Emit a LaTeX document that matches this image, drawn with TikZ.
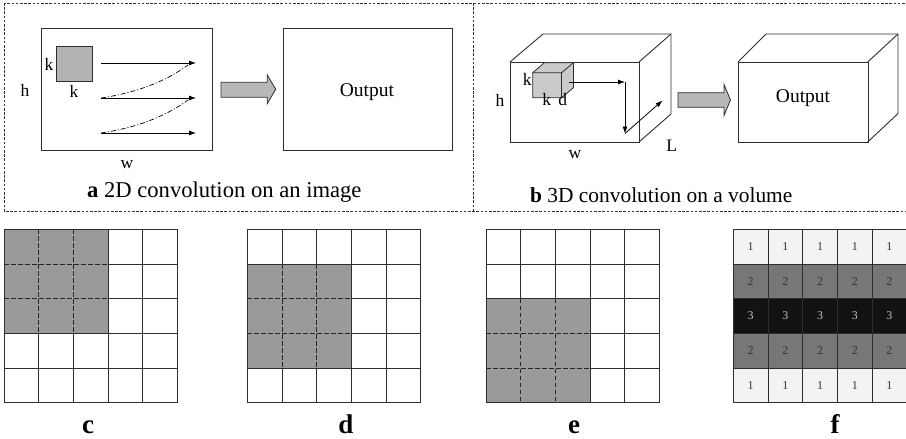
\documentclass[tikz,border=0pt]{standalone}
\usepackage{fontspec}
\setmainfont{Liberation Serif}
\usetikzlibrary{arrows.meta}

\definecolor{framecol}{HTML}{333333}
\definecolor{linecol}{HTML}{2E2E2E}
\definecolor{kernelgray}{HTML}{B4B4B4}
\definecolor{cubegray}{HTML}{CACACA}
\definecolor{arrowgray}{HTML}{B8B8B8}
\definecolor{cellgray}{HTML}{9A9A9A}
\definecolor{rowlight}{HTML}{F3F3F3}
\definecolor{rowmid}{HTML}{777777}
\definecolor{rowdark}{HTML}{121212}

\tikzset{
  panelframe/.style={draw=framecol, line width=0.8pt, dash pattern=on 2.6pt off 1.6pt},
  boxline/.style={draw=linecol, line width=0.9pt},
  flowarrow/.style={draw=black, line width=0.8pt, -{Latex[length=7pt,width=5pt]}},
  dashdot/.style={draw=black, line width=0.7pt, dash pattern=on 5pt off 2pt on 1pt off 2pt},
  bigarrow/.style={fill=arrowgray, draw=linecol, line width=0.8pt, line join=miter},
  dimlabel/.style={font=\fontsize{17.5}{20}\selectfont, inner sep=0pt},
  outlabel/.style={font=\fontsize{19.5}{22}\selectfont, inner sep=0pt},
  caption/.style={inner sep=0pt, anchor=base west},
  gridlabel/.style={font=\fontsize{27}{30}\selectfont\bfseries, inner sep=0pt, anchor=base},
  gridline/.style={draw=linecol, line width=0.8pt},
  innerdash/.style={draw=black!85, line width=0.8pt, dash pattern=on 4.5pt off 2.5pt},
  numlabel/.style={font=\fontsize{12}{13}\selectfont, inner sep=0pt},
}

% 5x5 grid of 34.7pt cells at origin #1, with a grey 3x3 window whose
% top-left cell is at column #2, row #3 (counted from 0)
\newcommand{\windowgrid}[3]{%
  \begin{scope}[shift={#1}]
    \foreach \i in {0,...,5} {
      \draw[gridline] (\i*34.7,0) -- (\i*34.7,173.5);
      \draw[gridline] (0,\i*34.7) -- (173.5,\i*34.7);
    }
    \fill[cellgray] (#2*34.7,#3*34.7) rectangle ++(104.1,104.1);
    \foreach \j in {1,2} {
      \draw[innerdash] ({(#2+\j)*34.7},#3*34.7) -- ++(0,104.1);
      \draw[innerdash] (#2*34.7,{(#3+\j)*34.7}) -- ++(104.1,0);
    }
    \draw[gridline] (#2*34.7,#3*34.7) rectangle ++(104.1,104.1);
  \end{scope}%
}

\begin{document}
\begin{tikzpicture}[x=1pt,y=-1pt]
\useasboundingbox (0,0) rectangle (906,439);

% ---------- dashed frame round panels a and b ----------
\draw[panelframe] (4,3) rectangle (912,211);
\draw[panelframe] (473.3,3) -- (473.3,211);

% ---------- panel a: 2D convolution ----------
\node[boxline, minimum width=171pt, minimum height=121.7pt, inner sep=0pt, anchor=north west] (img) at (40.7,28.3) {};
\node[fill=kernelgray, draw=linecol, line width=0.8pt, minimum width=35.7pt, minimum height=34.7pt, inner sep=0pt, anchor=north west] (kern) at (56,46) {};
\node[dimlabel] (ka1) at (49,64) {k};
\node[dimlabel] (ka2) at (74,91) {k};
\node[dimlabel] (ha) at (25,90) {h};
\node[dimlabel] (wa) at (127,165) {w};

\coordinate (r1s) at (101,63);   \coordinate (r1e) at (196,63);
\coordinate (r2s) at (101,98);   \coordinate (r2e) at (196,98);
\coordinate (r3s) at (101,133);  \coordinate (r3e) at (196,133);
\draw[flowarrow] (r1s) -- (r1e);
\draw[flowarrow] (r2s) -- (r2e);
\draw[flowarrow] (r3s) -- (r3e);
\draw[dashdot] (r2s) .. controls (135,93) and (165,82) .. (188,65);
\draw[dashdot] (r3s) .. controls (135,128) and (165,117) .. (188,100);

\draw[bigarrow] (221,82.3) -- (267.3,82.3) -- (267.3,75) -- (275.7,89.3)
  -- (267.3,103.6) -- (267.3,97.3) -- (221,97.3) -- cycle;

\node[boxline, minimum width=169pt, minimum height=121.7pt, inner sep=0pt, anchor=north west] (outa) at (283,28.3) {};
\node[outlabel] (outatext) at (367,92) {Output};

\node[caption, font=\fontsize{22.6}{26}\selectfont] (capa) at (87,197.5) {\textbf{a} 2D convolution on an image};

% ---------- panel b: 3D convolution ----------
% input volume
\fill[white] (510,62) -- (543,34) -- (671,34) -- (671,114) -- (639,142) -- (510,142) -- cycle;
\draw[boxline, line join=miter] (510,62) -- (543,34) -- (671,34) -- (671,114) -- (639,142);
\draw[boxline] (639,62) -- (671,34);
\node[boxline, minimum width=129pt, minimum height=80pt, inner sep=0pt, anchor=north west] (vol) at (510,62) {};

% 3D kernel
\filldraw[fill=cubegray, draw=linecol, line width=0.8pt, line join=miter]
  (532.7,72.7) -- (544.4,62.7) -- (573.4,62.7) -- (573.4,87.7) -- (561.7,97.7)
  -- (532.7,97.7) -- cycle;
\draw[draw=linecol, line width=0.8pt] (532.7,72.7) -- (561.7,72.7) -- (573.4,62.7);
\draw[draw=linecol, line width=0.8pt] (561.7,72.7) -- (561.7,97.7);
\node[dimlabel] (kb1) at (527.3,79.5) {k};
\node[dimlabel] (kb2) at (546.7,99.5) {k};
\node[dimlabel] (db) at (562.7,99.5) {d};
\node[dimlabel] (hb) at (500,100) {h};
\node[dimlabel] (wb) at (575,155) {w};
\node[dimlabel] (lb) at (671.7,145.7) {L};

\coordinate (s1) at (569,82);
\coordinate (s2) at (625,82);
\coordinate (s3) at (625,133.5);
\coordinate (s4) at (662.5,100.5);
\draw[flowarrow] (s1) -- (s2);
\draw[flowarrow] (s2) -- (s3);
\draw[flowarrow] (s3) -- (s4);

\draw[bigarrow] (678,92.7) -- (724,92.7) -- (724,84.5) -- (730.5,100)
  -- (724,115.5) -- (724,107.3) -- (678,107.3) -- cycle;

% output volume
\draw[boxline, line join=miter] (738,62) -- (766,34) -- (898,34) -- (898,113.5) -- (867.7,142);
\draw[boxline] (867.7,62) -- (898,34);
\node[boxline, minimum width=129.7pt, minimum height=80pt, inner sep=0pt, anchor=north west] (outb) at (738,62) {};
\node[outlabel] (outbtext) at (803,98) {Output};

\node[caption, font=\fontsize{21.4}{25}\selectfont] (capb) at (530,202) {\textbf{b} 3D convolution on a volume};

% ---------- panels c, d, e: sliding 3x3 window ----------
\windowgrid{(4,229.3)}{0}{0}
\windowgrid{(247.3,229.3)}{0}{1}
\windowgrid{(486,229.3)}{0}{2}

\node[gridlabel] (lc) at (88,433) {c};
\node[gridlabel] (ld) at (346,433) {d};
\node[gridlabel] (le) at (574,433) {e};

% ---------- panel f: per-cell overlap counts ----------
\begin{scope}[shift={(733.3,229.3)}]
  \foreach \r/\fc/\tc/\n in {0/rowlight/black!80/1, 1/rowmid/black!80/2, 2/rowdark/black!25/3, 3/rowmid/black!80/2, 4/rowlight/black!80/1} {
    \fill[\fc] (0,\r*34.7) rectangle ++(173.5,34.7);
    \foreach \c in {0,...,4}
      \node[numlabel, text=\tc] (f\r\c) at ({(\c+0.5)*34.7},{(\r+0.5)*34.7}) {\n};
  }
  \foreach \i in {0,...,5} {
    \draw[gridline] (\i*34.7,0) -- (\i*34.7,173.5);
    \draw[gridline] (0,\i*34.7) -- (173.5,\i*34.7);
  }
\end{scope}
\node[gridlabel] (lf) at (835,433) {f};

\end{tikzpicture}
\end{document}
